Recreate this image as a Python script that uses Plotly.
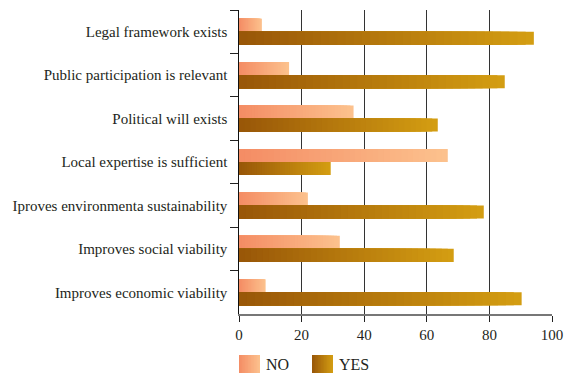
import plotly.graph_objects as go

# Survey responses (%) per statement
categories = [
    "Legal framework exists",
    "Public participation is relevant",
    "Political will exists",
    "Local expertise is sufficient",
    "Iproves environmenta sustainability",
    "Improves social viability",
    "Improves economic viability",
]
no_values = [7.3, 16, 36.6, 66.7, 22, 32.2, 8.5]
yes_values = [94.2, 84.9, 63.5, 29.3, 78.2, 68.6, 90.3]
x_ticks = [0, 20, 40, 60, 80, 100]
series_names = ["NO", "YES"]

# left -> right gradient colours for each series
NO_COLORS = ((244, 140, 100), (252, 194, 142))
YES_COLORS = ((152, 86, 8), (212, 158, 18))
STEPS = 36
TEXT = "#231f20"

W, H = 565, 373
M = dict(l=239, r=13, t=10, b=59)


def mix(c0, c1, t):
    return "rgb({},{},{})".format(*[round(a + (b - a) * t) for a, b in zip(c0, c1)])


fig = go.Figure()


def gradient_bars(name, values, colors, group):
    # layered bars of decreasing length give a horizontal gradient per bar
    for j in range(STEPS, 0, -1):
        frac = j / STEPS
        fig.add_trace(go.Bar(
            y=categories,
            x=[v * frac for v in values],
            orientation="h",
            offsetgroup=group,
            marker=dict(color=mix(colors[0], colors[1], (j - 0.5) / STEPS), line=dict(width=0)),
            name=name,
            showlegend=False,
            hoverinfo="skip",
        ))


gradient_bars(series_names[0], no_values, NO_COLORS, "no")
gradient_bars(series_names[1], yes_values, YES_COLORS, "yes")

# legend keys below the axis: gradient swatch + label
shapes, annotations = [], []
pw = W - M["l"] - M["r"]
ph = H - M["t"] - M["b"]


def px_to_paper(x, y):
    return (x - M["l"]) / pw, (H - M["b"] - y) / ph


for (name, colors), x0 in zip(zip(series_names, (NO_COLORS, YES_COLORS)), (239, 312)):
    n = 14
    sw = 21.0
    xend, _ = px_to_paper(x0 + sw, 0)
    for k in range(n):
        xa, ya = px_to_paper(x0 + sw * k / n, 373)
        _, yb = px_to_paper(0, 355)
        shapes.append(dict(type="rect", xref="paper", yref="paper", x0=xa, x1=xend, y0=ya, y1=yb,
                           line=dict(width=0), fillcolor=mix(colors[0], colors[1], (k + 0.5) / n),
                           layer="above"))
    tx, ty = px_to_paper(x0 + sw + 4, 364)
    annotations.append(dict(text=name, xref="paper", yref="paper", x=tx, y=ty, xanchor="left",
                            yanchor="middle", showarrow=False, font=dict(size=16, color=TEXT)))

fig.update_layout(
    width=W,
    height=H,
    margin=M,
    paper_bgcolor="white",
    plot_bgcolor="white",
    barmode="group",
    bargap=0.4,
    bargroupgap=0,
    font=dict(family="Liberation Serif", size=15, color=TEXT),
    showlegend=False,
    shapes=shapes,
    annotations=annotations,
    xaxis=dict(
        range=[0, 100],
        tickvals=x_ticks,
        ticks="outside", ticklen=6, tickcolor="#222", tickwidth=1.2,
        showgrid=True, gridcolor="#333", gridwidth=1.3,
        showline=True, linecolor="#777", linewidth=1.5,
        zeroline=False,
        automargin=False,
        tickfont=dict(size=15),
    ),
    yaxis=dict(
        type="category",
        autorange="reversed",
        tickson="boundaries",
        ticks="outside", ticklen=8, tickcolor="#222", tickwidth=1.2,
        showline=True, linecolor="#111", linewidth=1.3,
        showgrid=False,
        automargin=False,
        ticksuffix="  ",
    ),
)

fig.write_html("out.html")
